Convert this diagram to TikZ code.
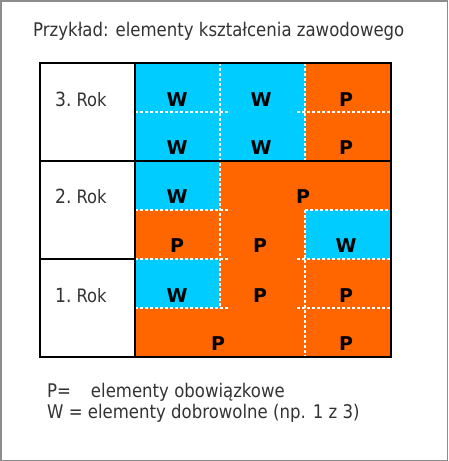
\documentclass[tikz,border=0pt]{standalone}
\usepackage{fontspec}
\setmainfont{DejaVu Sans}[FakeStretch=0.88]
\newfontfamily\cellfont{DejaVu Sans}
\usepackage[HTML]{xcolor}
\usepackage{tikz}
\definecolor{wblue}{HTML}{00CCFF}
\definecolor{porange}{HTML}{FF6600}
\definecolor{framegray}{HTML}{8C8C8C}
\definecolor{textgray}{HTML}{333333}

\begin{document}
\begin{tikzpicture}[x=1pt, y=-1pt,
  divide/.style={white, line width=1.4pt, dash pattern=on 3pt off 2pt},
  letter/.style={anchor=base, inner sep=0pt, font=\cellfont\fontsize{19}{22}\selectfont\bfseries},
  yearlbl/.style={anchor=base west, inner sep=0pt, font=\fontsize{18.5}{21}\selectfont, textgray},
  txt/.style={anchor=base west, inner sep=0pt, font=\fontsize{18.8}{22}\selectfont, textgray}]
\useasboundingbox (0,0) rectangle (448,461);
% --- Frame ---
\draw[framegray, line width=1.5pt] (0.75,0.75) rectangle (447.25,460.25);
\node[txt] (title) at (33,36) {Przykład: elementy kształcenia zawodowego};
% --- Cells ---
\fill[porange] (135,63) rectangle (391,357);
\fill[wblue] (135,63) rectangle (305,161);  % 3. Rok
\fill[wblue] (135,161) rectangle (220,210); % 2. Rok
\fill[wblue] (305,210) rectangle (391,259);
\fill[wblue] (135,259) rectangle (220,308); % 1. Rok
% --- White dashed dividers ---
\draw[divide] (220,63) -- (220,308);
\draw[divide] (305,63) -- (305,161);
\draw[divide] (305,210) -- (305,357);
\foreach \y in {112,210,259,308} {
  \draw[divide] (135,\y) -- (230,\y);
}
\foreach \y in {112,259,308} {
  \draw[divide] (297,\y) -- (391,\y);
}
\draw[divide] (305,210) -- (391,210);
% --- Black grid ---
\draw[black, line width=1.8pt] (40,63) rectangle (391,357);
\draw[black, line width=1.8pt] (135,63) -- (135,357);
\draw[black, line width=1.8pt] (40,161) -- (391,161);
\draw[black, line width=1.8pt] (40,259) -- (135,259);
% --- Years ---
\node[yearlbl] (rok3) at (55,106) {{\fontsize{19.5}{23}\selectfont 3.}\hspace{5pt}Rok};
\node[yearlbl] (rok2) at (55,203) {{\fontsize{19.5}{23}\selectfont 2.}\hspace{5pt}Rok};
\node[yearlbl] (rok1) at (55,302) {{\fontsize{19.5}{23}\selectfont 1.}\hspace{5pt}Rok};
% --- Letters ---
\node[letter] (w3a) at (177,106) {W};
\node[letter] (w3b) at (261,106) {W};
\node[letter] (p3c) at (346,106) {P};
\node[letter] (w3d) at (177,154) {W};
\node[letter] (w3e) at (261,154) {W};
\node[letter] (p3f) at (346,154) {P};
\node[letter] (w2a) at (177,203) {W};
\node[letter] (p2b) at (303,203) {P};
\node[letter] (p2c) at (177,252) {P};
\node[letter] (p2d) at (260,252) {P};
\node[letter] (w2e) at (346,252) {W};
\node[letter] (w1a) at (177,302) {W};
\node[letter] (p1b) at (260,302) {P};
\node[letter] (p1c) at (346,302) {P};
\node[letter] (p1d) at (218,350) {P};
\node[letter] (p1e) at (346,350) {P};
% --- Legend ---
\node[txt] (legp) at (47,397) {\makebox[2.33em][l]{P=}elementy obowiązkowe};
\node[txt] (legw) at (47,418) {W = elementy dobrowolne (np. 1 z 3)};
\end{tikzpicture}
\end{document}
